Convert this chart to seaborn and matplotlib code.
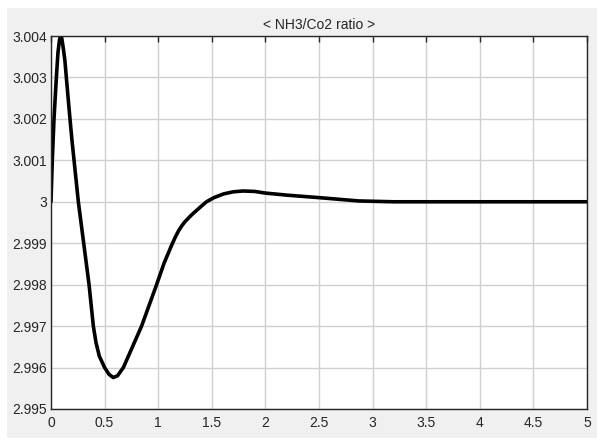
import matplotlib
matplotlib.use("Agg")
import matplotlib.pyplot as plt
import seaborn as sns
import pandas as pd
from matplotlib.patches import Rectangle

time_s = [0.0, 0.012, 0.028, 0.05, 0.065, 0.08, 0.09, 0.10, 0.115, 0.13, 0.143, 0.16,
          0.177, 0.195, 0.215, 0.235, 0.255, 0.28, 0.305, 0.33, 0.355, 0.375, 0.395,
          0.42, 0.45, 0.50, 0.54, 0.58, 0.62, 0.675, 0.76, 0.845, 0.915, 0.985, 1.055,
          1.125, 1.16, 1.19, 1.22, 1.25, 1.31, 1.37, 1.45, 1.52, 1.61, 1.70, 1.79,
          1.90, 2.0, 2.2, 2.5, 2.87, 3.2, 3.5, 4.0, 4.5, 5.0]
ratio = [3.0, 3.001, 3.002, 3.003, 3.0036, 3.00392, 3.0040, 3.00395, 3.0037, 3.0034,
         3.003, 3.0025, 3.002, 3.0015, 3.001, 3.0005, 3.0, 2.9995, 2.999, 2.9985,
         2.998, 2.9975, 2.997, 2.9966, 2.99628, 2.996, 2.99584, 2.99576, 2.9958,
         2.996, 2.9965, 2.997, 2.9975, 2.998, 2.99852, 2.99895, 2.99915, 2.9993,
         2.99942, 2.99952, 2.99968, 2.99982, 3.0, 3.0001, 3.00019, 3.00024, 3.00026,
         3.00025, 3.00021, 3.00016, 3.0001, 3.00002, 3.0, 3.0, 3.0, 3.0, 3.0]

x_ticks = [0, 0.5, 1, 1.5, 2, 2.5, 3, 3.5, 4, 4.5, 5]
x_labels = ["0", "0.5", "1", "1.5", "2", "2.5", "3", "3.5", "4", "4.5", "5"]
y_ticks = [2.995, 2.996, 2.997, 2.998, 2.999, 3.0, 3.001, 3.002, 3.003, 3.004]
y_labels = ["2.995", "2.996", "2.997", "2.998", "2.999", "3", "3.001", "3.002", "3.003", "3.004"]
title = "< NH3/Co2 ratio >"

sns.set_style("whitegrid")
plt.rcParams["font.family"] = ["Liberation Sans", "DejaVu Sans"]

fig = plt.figure(figsize=(5.97, 4.42), dpi=100, facecolor="white")
bg = Rectangle((7/597, 4/442), 590/597, 430/442, transform=fig.transFigure,
               facecolor="#f0f0f0", edgecolor="none", zorder=-10)
fig.patches.append(bg)
ax = fig.add_axes([51/597, 1-409/442, 536/597, 373/442])
ax.set_zorder(1)
ax.set_facecolor("white")

df = pd.DataFrame({"t": time_s, "r": ratio})
sns.lineplot(data=df, x="t", y="r", ax=ax, color="black", linewidth=2.6)

ax.set_xlim(0, 5)
ax.set_ylim(2.995, 3.004)
ax.set_xticks(x_ticks)
ax.set_xticklabels(x_labels)
ax.set_yticks(y_ticks)
ax.set_yticklabels(y_labels)
ax.set_xlabel("")
ax.set_ylabel("")
ax.grid(True, color="#d0d0d0", linewidth=1.0)
for s in ax.spines.values():
    s.set_visible(True)
    s.set_color("#262626")
    s.set_linewidth(1.0)
ax.tick_params(axis="both", direction="in", length=4, width=1, color="#262626",
               labelsize=10, labelcolor="#262626", pad=3, top=True, right=False)
ax.tick_params(axis="x", pad=5)
ax.set_title(title, fontsize=10, color="#262626", pad=5)

fig.savefig("out.png", dpi=100, facecolor="white")
